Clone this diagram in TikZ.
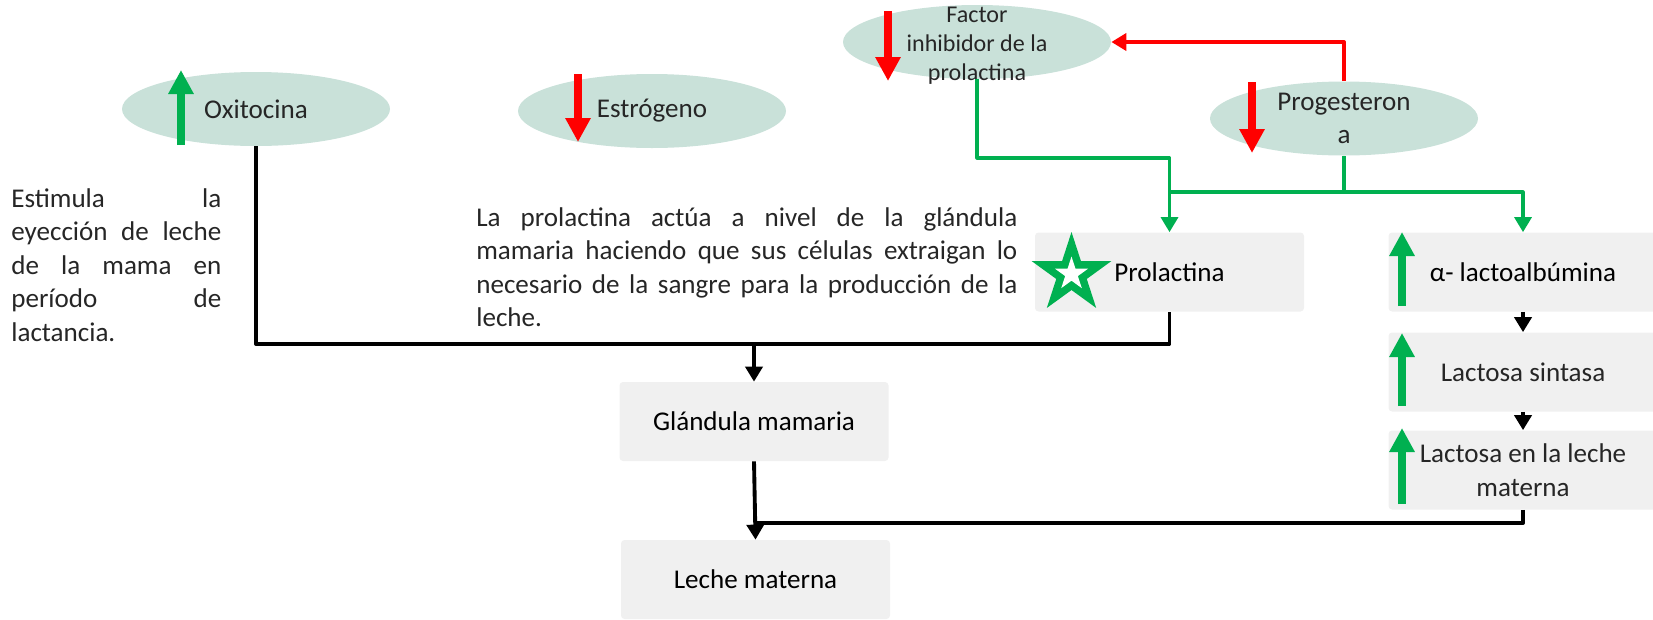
\documentclass[tikz,border=0pt]{standalone}
\usepackage{fontspec}
\setmainfont{Carlito}
\usepackage{xcolor}
\usepackage{tikz}
\usetikzlibrary{arrows.meta,calc,shapes.geometric}

\definecolor{hormfill}{RGB}{201,225,217}
\definecolor{boxfill}{RGB}{240,240,240}
\definecolor{upgreen}{RGB}{0,176,80}
\definecolor{downred}{RGB}{255,0,0}
\definecolor{txt}{RGB}{38,38,38}

\begin{document}
\begin{tikzpicture}[>={Triangle[length=0.30cm,width=0.34cm]},line join=round,
  hormone/.style={ellipse,fill=hormfill,inner sep=0pt,minimum width=5.36cm,minimum height=1.48cm},
  htext/.style={align=center,text=txt,inner sep=0pt,font=\fontsize{15.4}{19.1}\selectfont},
  stage/.style={rectangle,rounded corners=2pt,fill=boxfill,inner sep=0pt,minimum width=5.38cm,
    minimum height=1.58cm,align=center,font=\fontsize{15.4}{19.1}\selectfont},
  note/.style={text=txt,align=justify,inner sep=0pt,anchor=north west,font=\fontsize{15.4}{19.1}\selectfont},
  upmark/.style={upgreen,line width=4.7pt,-{Triangle[length=0.48cm,width=0.48cm]}},
  downmark/.style={downred,line width=4.7pt,-{Triangle[length=0.48cm,width=0.48cm]}},
  starmark/.style={star,star points=5,star point ratio=2.62,inner sep=0pt},
  blackline/.style={line width=2.2pt,black},
  greenline/.style={line width=1.8pt,upgreen},
  redline/.style={line width=2.3pt,downred}]
  \useasboundingbox (0,0) rectangle (33.06,-12.38);
  % hormones
  \node[hormone] (oxi) at (5.12,-2.18) {};
  \node[hormone] (est) at (13.04,-2.22) {};
  \node[hormone] (fact) at (19.54,-0.84) {};
  \node[hormone] (prog) at (26.88,-2.37) {};
  \draw[upmark] (3.62,-2.90) -- (3.62,-1.40);
  \draw[downmark] (11.56,-1.48) -- (11.56,-2.84);
  \draw[downmark] (17.76,-0.22) -- (17.76,-1.62);
  \draw[downmark] (25.04,-1.64) -- (25.04,-3.06);
  \node[htext] (oxiT) at (oxi) {Oxitocina};
  \node[htext] (estT) at (est) {Estrógeno};
  \node[htext,font=\fontsize{13.7}{16.4}\selectfont] (factT) at ($(fact)+(0,-0.08)$) {Factor\\inhibidor de la\\prolactina};
  \node[htext] (progT) at (prog) {Progesteron\\a};
  % boxes
  \node[stage] (prol) at (23.39,-5.44) {Prolactina};
  \node[stage] (alfa) at (30.46,-5.44) {α- lactoalbúmina};
  \node[stage,text=txt] (lsin) at (30.46,-7.44) {Lactosa sintasa};
  \node[stage,text=txt] (lle) at (30.46,-9.40) {Lactosa en la leche\\materna};
  \node[stage] (glan) at (15.08,-8.43) {Glándula mamaria};
  \node[stage] (leche) at (15.11,-11.59) {Leche materna};
  \node[starmark,minimum size=1.68cm,fill=upgreen] (star) at (21.43,-5.48) {};
  \node[starmark,minimum size=0.70cm,fill=white] (starIn) at (star.center) {};
  \draw[upmark] (28.04,-6.12) -- (28.04,-4.64);
  \draw[upmark] (28.04,-8.12) -- (28.04,-6.66);
  \draw[upmark] (28.04,-10.08) -- (28.04,-8.56);
  % notes
  \node[note,text width=4.2cm] (noteL) at (0.22,-3.76)
    {Estimula la\linebreak eyección de leche\linebreak de la mama en\linebreak período de\linebreak lactancia.};
  \node[note,text width=10.82cm] (noteM) at (9.52,-4.14)
    {La prolactina actúa a nivel de la glándula\linebreak mamaria haciendo que sus células extraigan lo\linebreak necesario de la sangre para la producción de la\linebreak leche.};
  % connectors
  \coordinate (jOxi) at (15.08,-6.88);
  \coordinate (jLac) at (15.08,-10.46);
  \coordinate (jFac) at (23.39,-3.16);
  \coordinate (jProg) at (26.88,-3.84);
  \draw[blackline] (oxi.south) |- (jOxi) -| (prol.south);
  \draw[blackline,->] (jOxi) -- (glan.north);
  \draw[blackline,->] (glan.south) -- (leche.north);
  \draw[blackline] (lle.south) |- (jLac);
  \draw[blackline,->] (alfa.south) -- (lsin.north);
  \draw[blackline,->] (lsin.south) -- (lle.north);
  \draw[greenline,->] (fact.south) |- (jFac) -- (prol.north);
  \draw[greenline] (prog.south) -- (jProg) -| (jFac);
  \draw[greenline,->] (jProg) -| (alfa.north);
  \draw[redline,->] (prog.north) |- (fact.east);
\end{tikzpicture}
\end{document}
